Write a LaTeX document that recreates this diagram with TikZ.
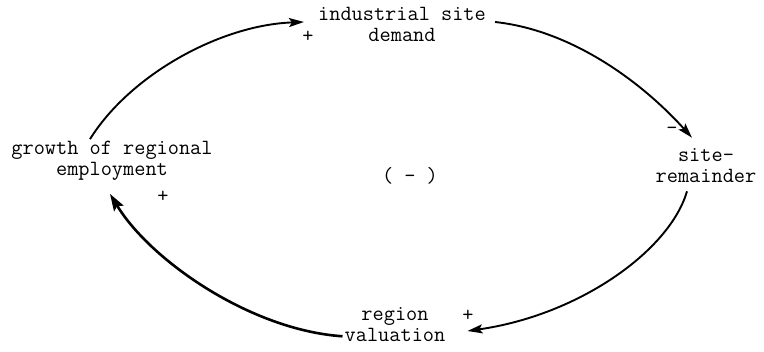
\documentclass[tikz,border=0pt]{standalone}
\usepackage{fontspec}
\usetikzlibrary{arrows.meta}

\begin{document}
\begin{tikzpicture}[x=1pt,y=-1pt,>=Latex,
  every node/.style={font=\ttfamily\fontsize{21.7}{21}\selectfont,align=center,inner sep=2pt},
  link/.style={line width=1.9pt,-{Stealth[length=15pt,width=9pt,inset=3pt]}}]
\useasboundingbox (0,0) rectangle (764,352);
\node (demand) at (402,24) {industrial site\\demand};
\node (remainder) at (706,166) {site-\\remainder};
\node (valuation) at (395,325) {region\\valuation};
\node (growth) at (112,161) {growth of regional\\employment};
\node (loop) at (410,176) {( - )};
\node (s1) at (308,37) {+};
\node (s2) at (672,131) {-};
\node (s3) at (468,316) {+};
\node (s4) at (163,197) {+};
\draw[link] ([xshift=-22pt]growth.north) .. controls (130,75) and (220,25) .. ([xshift=-12pt,yshift=2pt]demand.west);
\draw[link] ([xshift=7pt,yshift=2pt]demand.east) .. controls (570,30) and (640,80) .. ([xshift=-14pt,yshift=9pt]remainder.north);
\draw[link] ([xshift=-19pt,yshift=-6pt]remainder.south) .. controls (670,250) and (580,315) .. ([xshift=20pt,yshift=-6pt]valuation.east);
\draw[link,line width=2.6pt,-{Stealth[length=17pt,width=11pt,inset=3pt]}] ([yshift=8pt]valuation.south west) .. controls (250,330) and (150,260) .. ([xshift=-2pt,yshift=-11pt]growth.south);
\end{tikzpicture}
\end{document}
